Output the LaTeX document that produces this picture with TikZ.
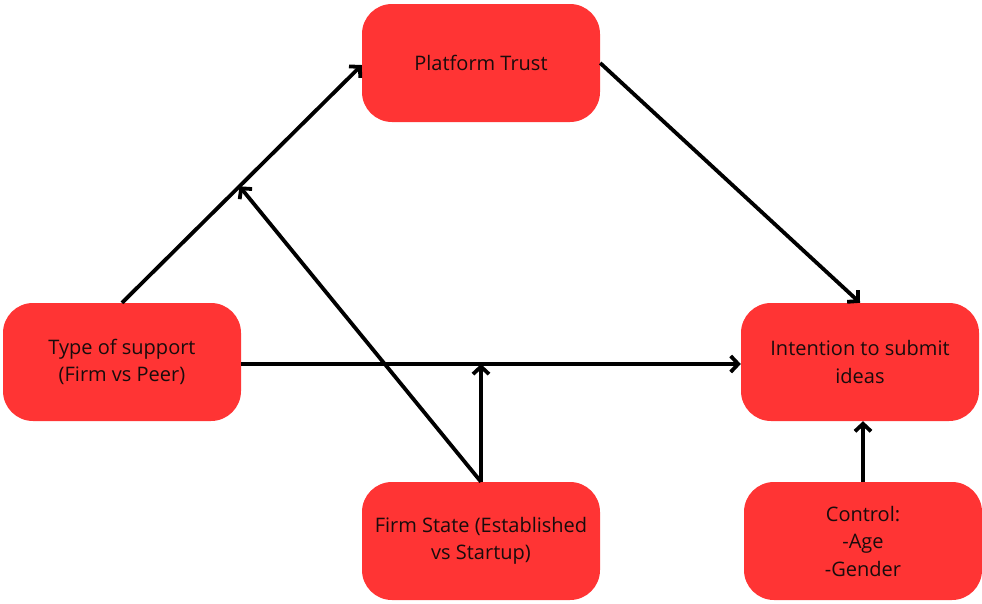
\documentclass[tikz,border=0pt]{standalone}
\usepackage{fontspec}
\setmainfont{Open Sans}
\usepackage{xcolor}
\usepackage{tikz}
\usetikzlibrary{arrows.meta, positioning}

\definecolor{boxred}{RGB}{255,52,52}
\definecolor{inkblack}{RGB}{25,12,12}

\begin{document}
\begin{tikzpicture}[
        x=1pt, y=-1pt,
        box/.style={rectangle, fill=boxred, rounded corners=30pt, align=center, minimum height=118pt, minimum width=238pt, text=inkblack, font=\fontsize{20}{27.5}\selectfont},
        arrow/.style={-{Straight Barb[length=7.5pt, width=16pt, line width=3.8pt]}, line width=3.8pt, black}
    ]
        \useasboundingbox (0,0) rectangle (982,603);

        % Nodes
        \node[box] (trust) at (481,63) {Platform Trust};
        \node[box] (type) at (122,362) {Type of support\\(Firm vs Peer)};
        \node[box] (intent) at (860,362) {Intention to submit\\ideas};
        \node[box] (firm) at (481,541) {Firm State (Established\\vs Startup)};
        \node[box] (control) at (863,541) {Control:\\-Age\\-Gender};

        % Main paths
        \draw[arrow] (type.north) -- coordinate[pos=0.49] (mod) ([yshift=-2pt]trust.west);
        \draw[arrow] ([yshift=-2pt]type.east) -- coordinate (direct) ([yshift=-2pt]intent.west);
        \draw[arrow] (trust.east) -- (intent.north);
        \draw[arrow] (control.north) -- (control.north |- intent.south);

        % Moderation
        \draw[arrow] (firm.north) -- (mod);
        \draw[arrow] (firm.north) -- (firm.north |- direct);

    \end{tikzpicture}
\end{document}
